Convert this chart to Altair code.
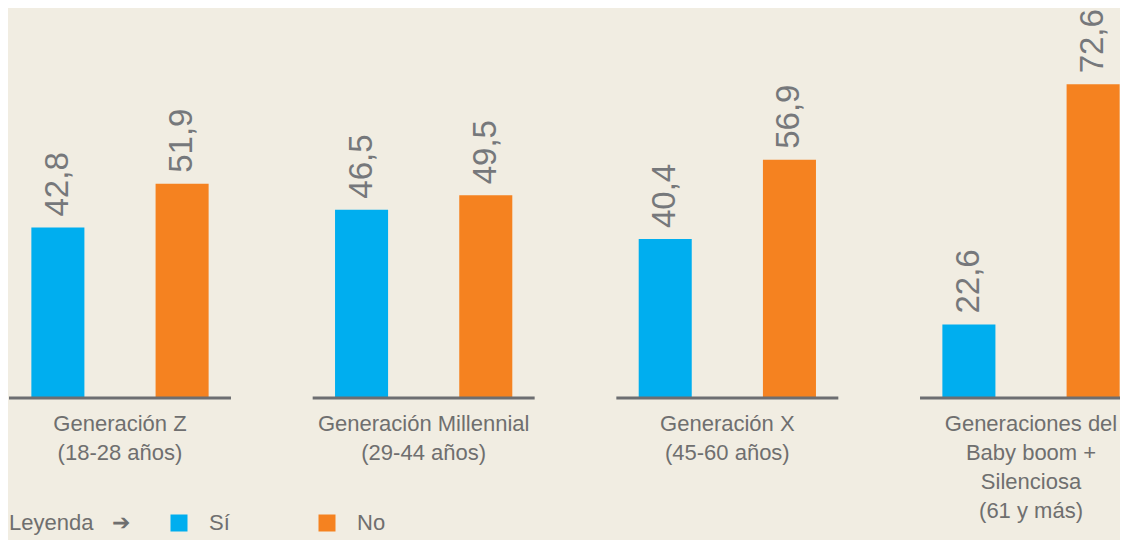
import altair as alt
import pandas as pd

# ---- data ----
groups = [
    "Generación Z|(18-28 años)",
    "Generación Millennial|(29-44 años)",
    "Generación X|(45-60 años)",
    "Generaciones del|Baby boom +|Silenciosa|(61 y más)",
]
series = ["Sí", "No"]
si_values = [42.8, 46.5, 40.4, 22.6]
no_values = [51.9, 49.5, 56.9, 72.6]
colors = ["#00aeef", "#f58220"]

rows = []
for g, s, n in zip(groups, si_values, no_values):
    rows.append({"grupo": g, "respuesta": "Sí", "valor": s})
    rows.append({"grupo": g, "respuesta": "No", "valor": n})
df = pd.DataFrame(rows)
df["etiqueta"] = df["valor"].map(lambda v: f"{v:.1f}".replace(".", ","))
base_df = pd.DataFrame({"grupo": groups})

Y_DOMAIN = [7.3, 88.5]
FONT = "Liberation Sans"
GRAY = "#6f6f6f"

x_scale = alt.Scale(range=[0, 1133], paddingInner=0.269, paddingOuter=0)
x_axis = alt.Axis(
    title=None, domain=False, ticks=False, tickSize=0, labelPadding=15,
    labelExpr="split(datum.label, '|')", labelAngle=0, labelFont=FONT,
    labelFontSize=22, labelColor=GRAY, labelLineHeight=29, labelLimit=0,
    labelOverlap=False,
)
x_enc = alt.X("grupo:N", sort=groups, scale=x_scale, axis=x_axis)
xo_enc = alt.XOffset(
    "respuesta:N", sort=series,
    scale=alt.Scale(domain=series, paddingInner=0.573, paddingOuter=0.18),
)
y_scale = alt.Scale(domain=Y_DOMAIN, zero=False, nice=False, clamp=True)
y_enc = alt.Y("valor:Q", scale=y_scale, axis=None)

bars = alt.Chart(df).mark_bar().encode(
    x=x_enc,
    xOffset=xo_enc,
    y=y_enc,
    y2=alt.Y2Datum(Y_DOMAIN[0]),
    color=alt.Color(
        "respuesta:N", sort=series,
        scale=alt.Scale(domain=series, range=colors),
        legend=alt.Legend(
            title="Leyenda\u00a0\u00a0\u00a0➔", orient="none", legendX=0,
            legendY=504, direction="horizontal", titleOrient="left",
            symbolType="square", symbolSize=289, symbolStrokeWidth=0,
            symbolOpacity=1,
            labelFont=FONT, labelFontSize=22, labelColor=GRAY, labelOffset=19,
            titleFont=FONT, titleFontSize=22, titleFontWeight="normal",
            titleColor=GRAY, titlePadding=38, columnPadding=86,
        ),
    ),
)

baseline = alt.Chart(base_df).mark_rule(strokeWidth=3, color="#6d6e71").encode(
    x=alt.X("grupo:N", sort=groups, scale=x_scale, axis=x_axis, bandPosition=0),
    x2=alt.X2("grupo:N", bandPosition=1),
    y=alt.YDatum(Y_DOMAIN[0], scale=y_scale, axis=None),
)

labels = alt.Chart(df).mark_text(
    angle=270, align="left", baseline="middle", dx=11,
    font=FONT, fontSize=33, color="#76787b",
).encode(
    x=x_enc,
    xOffset=xo_enc,
    y=y_enc,
    text="etiqueta:N",
)

chart = (
    alt.layer(bars, baseline, labels)
    .properties(
        width=1111, height=390,
        autosize=alt.AutoSizeParams(type="none"),
        padding={"left": 1, "top": 0, "right": 0, "bottom": 142},
        background="#f1ede2",
    )
    .configure_view(stroke=None)
)

chart.save("out.html", embed_options={"renderer": "svg", "actions": False})
